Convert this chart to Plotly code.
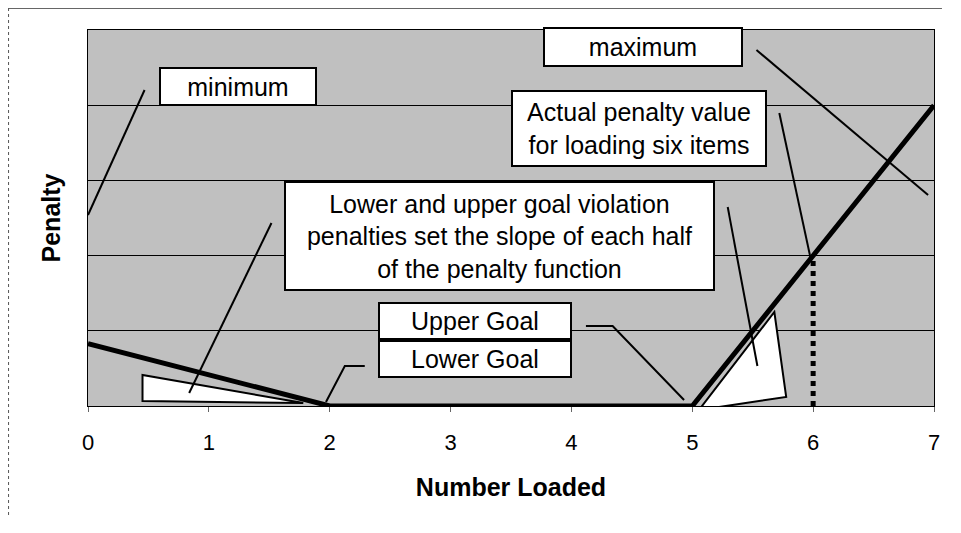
import plotly.graph_objects as go

# ---- data ----
penalty_x = [0, 2, 5, 7]
penalty_y = [0.83, 0, 0, 4]
actual_x = [6, 6]
actual_y = [0, 2]
x_ticks = [0, 1, 2, 3, 4, 5, 6, 7]
x_ticklabels = ["0", "1", "2", "3", "4", "5", "6", "7"]

FONT = "Liberation Sans, Arial, Helvetica, sans-serif"

fig = go.Figure()
fig.add_trace(go.Scatter(x=penalty_x, y=penalty_y, mode="lines",
                         line=dict(color="black", width=5),
                         cliponaxis=False, showlegend=False, hoverinfo="skip"))
fig.add_trace(go.Scatter(x=actual_x, y=actual_y, mode="lines",
                         line=dict(color="black", width=5, dash="dot"),
                         cliponaxis=False, showlegend=False, hoverinfo="skip"))

# slope triangles
fig.add_shape(type="path", path="M 0.451 0.412 L 0.451 0.066 L 1.781 0.040 Z",
              line=dict(color="black", width=2), fillcolor="white", layer="below")
fig.add_shape(type="path", path="M 5.055 -0.053 L 5.679 1.250 L 5.777 0.120 Z",
              line=dict(color="black", width=2), fillcolor="white", layer="above")

# leader lines
leaders = [
    "M 0.468 4.202 L 0 2.540",
    "M 5.531 4.734 L 6.951 2.806",
    "M 5.720 3.896 L 5.982 1.941",
    "M 5.293 2.646 L 5.539 0.532",
    "M 1.518 2.434 L 0.837 0.173",
    "M 4.120 1.064 L 4.341 1.064 L 4.932 0.080",
    "M 2.290 0.532 L 2.125 0.532 L 1.969 0.053",
]
for p in leaders:
    fig.add_shape(type="path", path=p, line=dict(color="black", width=2))

# outer chart border (partially visible)
fig.add_shape(type="line", xref="paper", yref="paper", x0=-0.0939, x1=1.0094,
              y0=1.0585, y1=1.0585, line=dict(color="#333333", width=1.5))
fig.add_shape(type="line", xref="paper", yref="paper", x0=-0.0939, x1=-0.0939,
              y0=1.0585, y1=-0.32, line=dict(color="#555555", width=1, dash="dot"))

def box(text, x, y, w, h):
    fig.add_annotation(x=x, y=y, xref="x", yref="y", text=text, showarrow=False,
                       width=w, height=h, bgcolor="white", bordercolor="black",
                       borderwidth=2, borderpad=0, align="center", valign="middle",
                       font=dict(family=FONT, size=25, color="black"))

box("minimum", 1.239, 4.249, 154, 35)
box("maximum", 4.595, 4.774, 196, 36)
box("Actual penalty value<br>for loading six items", 4.563, 3.690, 252, 73)
box("Lower and upper goal violation<br>penalties set the slope of each half<br>of the penalty function",
    3.401, 2.261, 427, 106)
box("Upper Goal", 3.200, 1.130, 190, 34)
box("Lower Goal", 3.200, 0.620, 190, 34)

fig.update_layout(
    width=940, height=510,
    margin=dict(l=80, r=8, t=22, b=112),
    paper_bgcolor="white", plot_bgcolor="#c0c0c0",
    font=dict(family=FONT, color="black"),
    xaxis=dict(range=[0, 7], tickvals=x_ticks, ticktext=x_ticklabels,
               showgrid=False, zeroline=False, showline=True, linecolor="black",
               linewidth=1, mirror=True, ticks="outside", ticklen=5, tickcolor="#666666",
               ticklabelstandoff=12,
               tickfont=dict(size=22, family=FONT),
               title=dict(text="<b>Number Loaded</b>", font=dict(size=25, family=FONT),
                          standoff=24)),
    yaxis=dict(range=[0, 5], dtick=1, showticklabels=False, showgrid=True,
               gridcolor="black", gridwidth=1, zeroline=False, showline=True,
               linecolor="black", linewidth=1, mirror=True, ticks="",
               title=dict(text="<b>Penalty</b>", font=dict(size=25, family=FONT),
                          standoff=19)),
)

fig.write_html("out.html")
